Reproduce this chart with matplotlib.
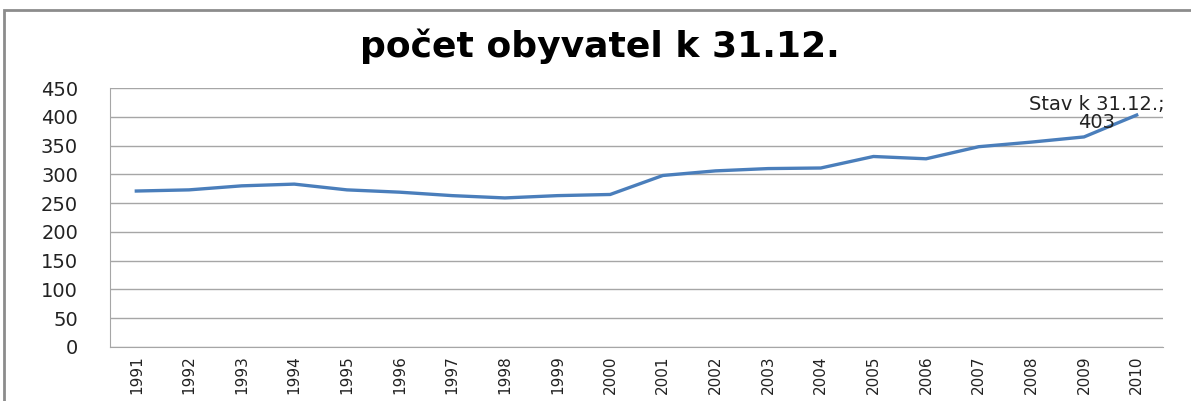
import matplotlib
matplotlib.use("Agg")
import matplotlib.pyplot as plt
from matplotlib.patches import Rectangle

years = ["1991", "1992", "1993", "1994", "1995", "1996", "1997", "1998", "1999", "2000",
         "2001", "2002", "2003", "2004", "2005", "2006", "2007", "2008", "2009", "2010"]
values = [271, 273, 280, 283, 273, 269, 263, 259, 263, 265,
          298, 306, 310, 311, 331, 327, 348, 356, 365, 403]
title = "počet obyvatel k 31.12."
series_name = "Stav k 31.12."
yticks = [0, 50, 100, 150, 200, 250, 300, 350, 400, 450]

W, H = 1191, 401
fig = plt.figure(figsize=(W / 100, H / 100), dpi=100)
fig.patch.set_facecolor("white")

# outer chart frame
fig.patches.append(Rectangle((4 / W, -0.2), 1.2, 1.2 - 10 / H,
                             transform=fig.transFigure, fill=False,
                             edgecolor="#8c8c8c", linewidth=2))

ax = fig.add_axes([110 / W, 1 - 347 / H, (1163 - 110) / W, (347 - 88) / H])
x = list(range(len(years)))
ax.plot(x, values, color="#4A7EBB", linewidth=2.4, solid_joinstyle="round")

ax.set_xlim(-0.5, len(years) - 0.5)
ax.set_ylim(0, 450)
ax.set_yticks(yticks)
ax.set_yticklabels([str(v) for v in yticks], fontsize=14, color="#222222",
                   family="DejaVu Sans")
ax.set_xticks(x)
ax.set_xticklabels(years, rotation=90, fontsize=11, color="#222222",
                   family="DejaVu Sans")
ax.tick_params(axis="y", length=0, pad=23)
ax.tick_params(axis="x", length=0, pad=6)
ax.grid(axis="y", color="#a6a6a6", linewidth=1)
ax.set_axisbelow(True)
for s in ["top", "right"]:
    ax.spines[s].set_visible(False)
ax.spines["left"].set_color("#a6a6a6")
ax.spines["bottom"].set_color("#a6a6a6")

ax.annotate(f"{series_name};\n{values[-1]}", xy=(x[-1], values[-1]),
            xytext=(-29, 1), textcoords="offset points",
            ha="center", va="center", fontsize=14, color="#222222",
            linespacing=0.95, family="DejaVu Sans")

fig.text(600 / W, 1 - 46 / H, title, ha="center", va="center",
         fontsize=26, fontweight="bold", family="DejaVu Sans", color="black")

fig.savefig("out.png", dpi=100)
